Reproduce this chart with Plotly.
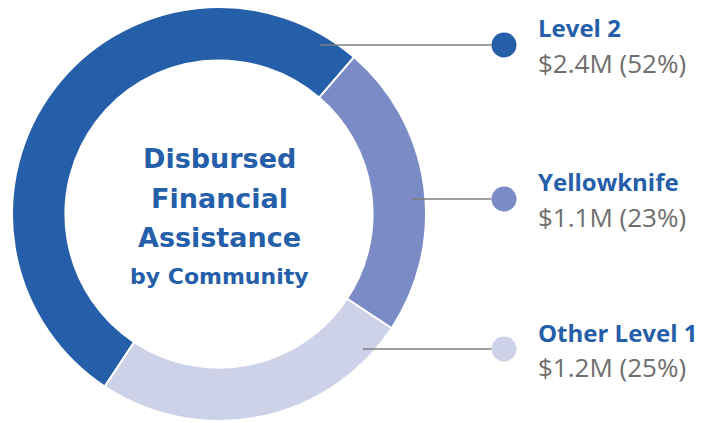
import plotly.graph_objects as go

# ---- data ----
categories = ["Level 2", "Yellowknife", "Other Level 1"]
shares = [52, 23, 25]                      # percent of total
amounts = ["$2.4M", "$1.1M", "$1.2M"]
colors = ["#255ea9", "#7b8bc5", "#cdd2e9"]
center_title = ["Disbursed", "Financial", "Assistance"]
center_sub = "by Community"

# ---- layout constants (pixels) ----
W, H = 718, 423
CX, CY, R = 219, 214, 207
HOLE = 0.742

def px(x):
    return x / W

def py(y):
    return 1 - y / H

BLUE = "#255ea9"
GRAY = "#6e6e6e"
LABEL_FONT = "Open Sans"
CENTER_FONT = "DejaVu Sans"

fig = go.Figure()
fig.add_trace(go.Pie(
    labels=categories,
    values=shares,
    hole=HOLE,
    sort=False,
    direction="clockwise",
    rotation=213.5,
    marker=dict(colors=colors, line=dict(color="white", width=2)),
    textinfo="none",
    hoverinfo="label+percent",
    showlegend=False,
    domain=dict(x=[px(CX - R), px(CX + R)], y=[py(CY + R), py(CY - R)]),
))

# center text
title_y = [158, 198, 237]
ann = []
for t, yy in zip(center_title, title_y):
    ann.append(dict(x=px(CX), y=py(yy), xref="paper", yref="paper",
                    text=f"<b>{t}</b>", showarrow=False, xanchor="center", yanchor="middle",
                    font=dict(family=CENTER_FONT, size=27, color=BLUE)))
ann.append(dict(x=px(CX), y=py(276), xref="paper", yref="paper",
                text=f"<b>{center_sub}</b>", showarrow=False, xanchor="center", yanchor="middle",
                font=dict(family=CENTER_FONT, size=22, color=BLUE)))

# right-hand labels
marker_y = [45, 199, 349]
line_x0 = [320, 412, 363]
LABEL_X = 536
MARK_X = 504
MARK_R = 12.5
shapes = []
for cat, pct, amt, col, my, lx in zip(categories, shares, amounts, colors, marker_y, line_x0):
    shapes.append(dict(type="line", xref="paper", yref="paper",
                       x0=px(lx), x1=px(MARK_X - MARK_R), y0=py(my), y1=py(my),
                       line=dict(color="#7f7f7f", width=1.5)))
    shapes.append(dict(type="circle", xref="paper", yref="paper",
                       x0=px(MARK_X - MARK_R), x1=px(MARK_X + MARK_R),
                       y0=py(my - MARK_R), y1=py(my + MARK_R),
                       fillcolor=col, line=dict(width=0)))
    ann.append(dict(x=px(LABEL_X), y=py(my - 17), xref="paper", yref="paper",
                    text=f"<b>{cat}</b>", showarrow=False, xanchor="left", yanchor="middle",
                    font=dict(family=LABEL_FONT, size=24, color=BLUE)))
    ann.append(dict(x=px(LABEL_X), y=py(my + 18), xref="paper", yref="paper",
                    text=f"{amt} ({pct}%)", showarrow=False, xanchor="left", yanchor="middle",
                    font=dict(family=LABEL_FONT, size=26, color=GRAY)))

fig.update_layout(
    width=W, height=H,
    margin=dict(l=0, r=0, t=0, b=0),
    paper_bgcolor="white", plot_bgcolor="white",
    annotations=ann, shapes=shapes,
)
fig.write_html("out.html", config={"displayModeBar": False},
               post_script="document.body.style.margin='0';")
